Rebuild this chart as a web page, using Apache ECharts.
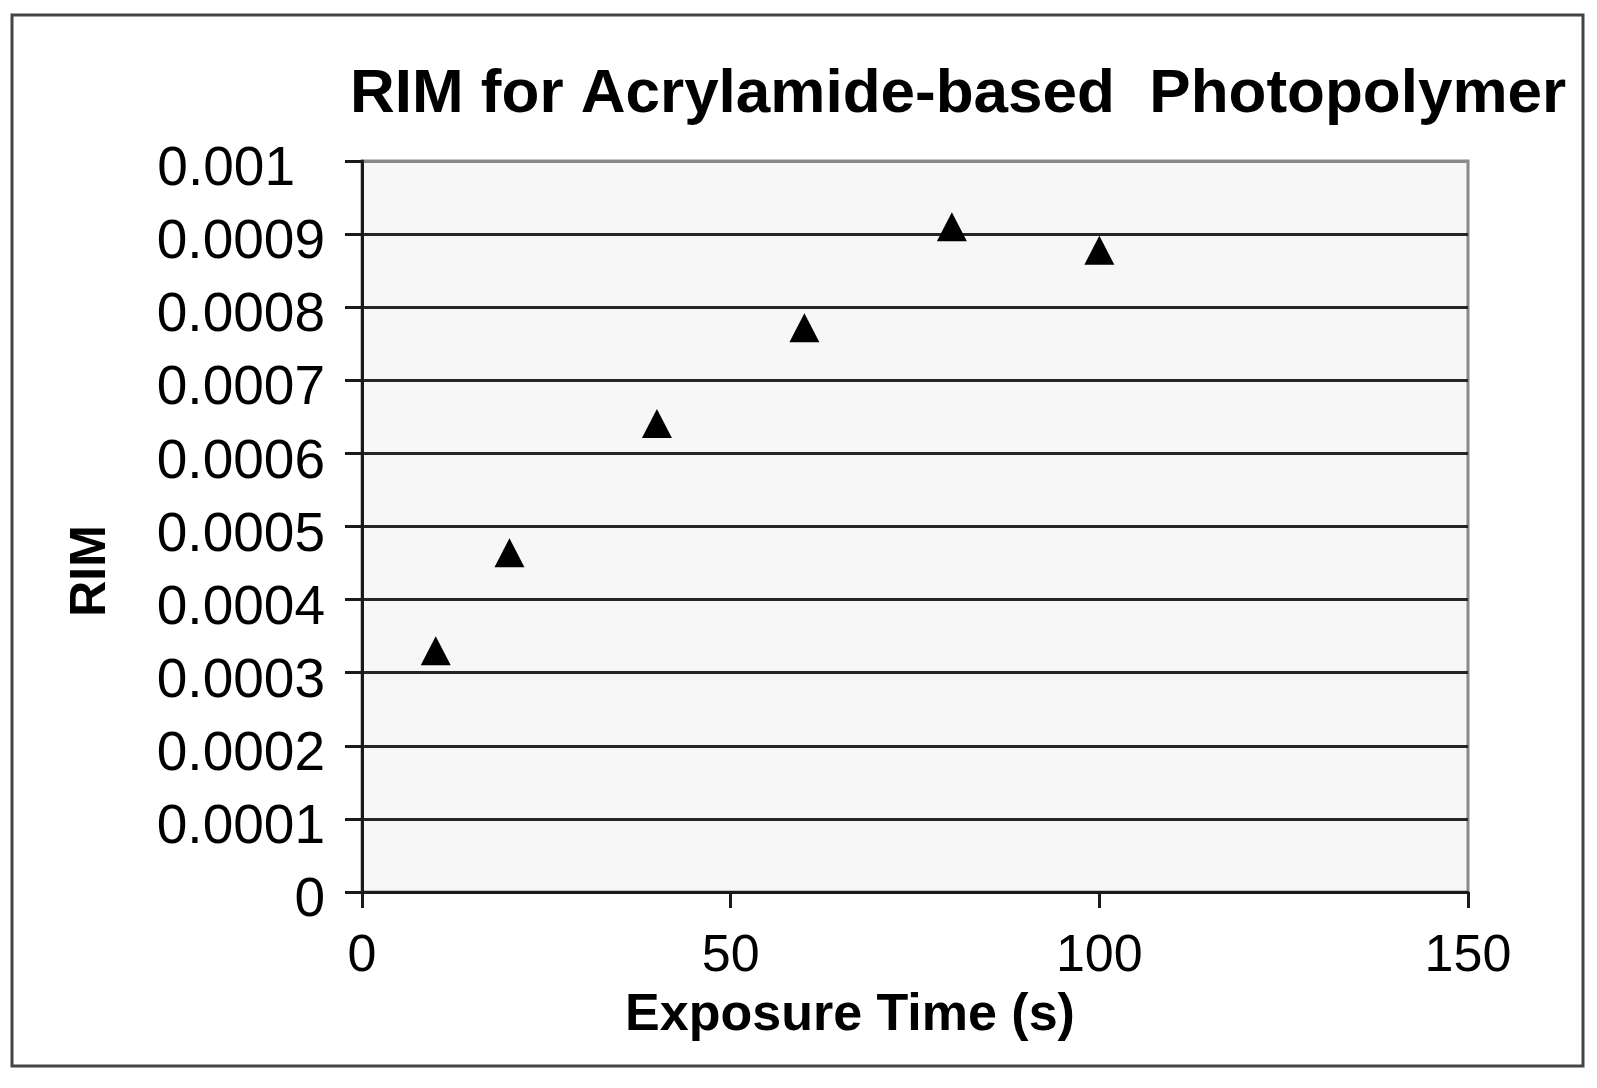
<!DOCTYPE html>
<html>
<head>
<meta charset="utf-8">
<script src="https://cdn.jsdelivr.net/npm/echarts@6/dist/echarts.min.js"></script>
<style>
  html, body { margin: 0; padding: 0; background: #fff; }
  #main { width: 1597px; height: 1088px; }
</style>
</head>
<body>
<div id="main"></div>
<script>
// exposure time (s) and refractive index modulation values
const exposureTimes = [10, 20, 40, 60, 80, 100];
const rimValues = [0.00033, 0.000464, 0.000641, 0.000772, 0.00091, 0.000878];

const xTicks = [0, 50, 100, 150];
const yTickStep = 0.0001;

const font = '"Liberation Sans", Arial, sans-serif';

// top grid line is part of the grey plot border
const gridColors = [];
for (let i = 0; i < 10; i++) gridColors.push('#262626');
gridColors.push('#8a8a8a');

const myChart = echarts.init(document.getElementById('main'));
const option = {
    backgroundColor: '#fff',
    animation: false,
    title: {
        text: 'RIM for Acrylamide-based  Photopolymer',
        left: 345,
        top: 59,
        textStyle: { fontFamily: font, fontWeight: 'bold', fontSize: 62, color: '#000' }
    },
    grid: {
        left: 362, top: 161, width: 1106, height: 731,
        show: true,
        backgroundColor: '#f7f7f7',
        borderColor: '#8a8a8a',
        borderWidth: 3
    },
    xAxis: {
        type: 'value',
        min: xTicks[0],
        max: xTicks[xTicks.length - 1],
        interval: 50,
        axisLine: { lineStyle: { color: '#1a1a1a', width: 3 } },
        axisTick: { show: true, inside: false, length: 16, lineStyle: { color: '#1a1a1a', width: 3 } },
        splitLine: { show: false },
        axisLabel: { fontFamily: font, fontSize: 52, color: '#000', margin: 39 }
    },
    yAxis: {
        type: 'value',
        min: 0,
        max: 0.001,
        interval: yTickStep,
        axisLine: { show: true, lineStyle: { color: '#1a1a1a', width: 3 } },
        axisTick: { show: true, inside: false, length: 17, lineStyle: { color: '#1a1a1a', width: 3 } },
        splitLine: { show: true, lineStyle: { color: gridColors, width: 3 } },
        axisLabel: {
            fontFamily: font, fontSize: 55, color: '#000', margin: 37,
            padding: [18, 0, 0, 0],
            formatter: v => {
                const s = v === 0 ? '0' : String(parseFloat(v.toFixed(4)));
                return s === '0.001' ? '{top|' + s + '}' : s;
            },
            rich: {
                top: { fontFamily: font, fontSize: 55, color: '#000', padding: [0, 30, 0, 0] }
            }
        }
    },
    graphic: [
        {
            type: 'rect',
            shape: { x: 12, y: 15, width: 1571, height: 1051 },
            style: { fill: 'none', stroke: '#444', lineWidth: 3 },
            silent: true
        },
        {
            type: 'text',
            x: 91, y: 571,
            rotation: Math.PI / 2,
            style: {
                text: 'RIM', fontFamily: font, fontWeight: 'bold', fontSize: 50,
                fill: '#000', align: 'center', verticalAlign: 'middle'
            }
        },
        {
            type: 'text',
            x: 850, y: 1016,
            style: {
                text: 'Exposure Time (s)', fontFamily: font, fontWeight: 'bold', fontSize: 52,
                fill: '#000', align: 'center', verticalAlign: 'middle'
            }
        }
    ],
    series: [{
        type: 'scatter',
        data: exposureTimes.map((t, i) => [t, rimValues[i]]),
        symbol: 'triangle',
        symbolSize: [30, 29],
        itemStyle: { color: '#000', opacity: 1 },
        z: 5
    }]
};
myChart.setOption(option);
</script>
</body>
</html>
